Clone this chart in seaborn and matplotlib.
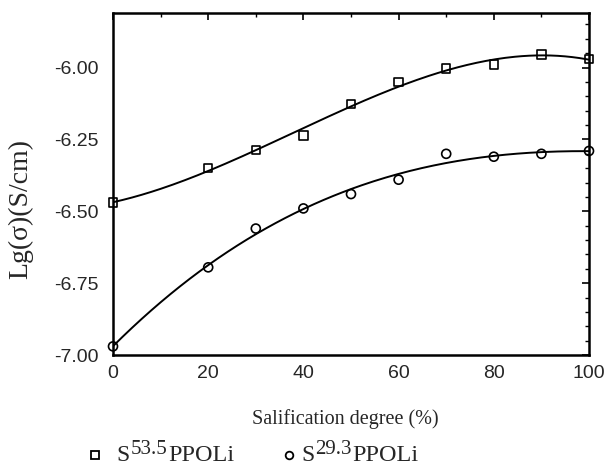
import numpy as np
import pandas as pd
import matplotlib
matplotlib.use("Agg")
import matplotlib.pyplot as plt
import seaborn as sns
from matplotlib.ticker import MultipleLocator, FormatStrFormatter
from matplotlib.lines import Line2D

# data
degree = [0, 20, 30, 40, 50, 60, 70, 80, 90, 100]
s535 = [-6.47, -6.35, -6.287, -6.236, -6.127, -6.05, -6.004, -5.99, -5.955, -5.97]
s293 = [-6.97, -6.695, -6.56, -6.49, -6.44, -6.39, -6.30, -6.31, -6.30, -6.29]
# legend pieces: base, superscript, rest
legend_parts = [("S", "53.5", "PPOLi"), ("S", "29.3", "PPOLi")]

sns.set_style("white")
plt.rcParams["font.family"] = ["Liberation Sans", "DejaVu Sans"]

df = pd.DataFrame({"degree": degree, "s535": s535, "s293": s293})

W, H = 606, 467
fig = plt.figure(figsize=(W / 100, H / 100), dpi=100)
ax = fig.add_axes([113 / W, 1 - 355 / H, (589 - 113) / W, (355 - 13) / H])

# smooth fitted curves (cubic)
xs = np.linspace(0, 100, 200)
for col in ["s535", "s293"]:
    coef = np.polyfit(df["degree"], df[col], 3)
    fit = pd.DataFrame({"x": xs, "y": np.polyval(coef, xs)})
    sns.lineplot(data=fit, x="x", y="y", ax=ax, color="black", linewidth=1.4)

sns.scatterplot(data=df, x="degree", y="s535", ax=ax, marker="s", s=38,
                facecolor="none", edgecolor="black", linewidth=1.2, zorder=3, clip_on=False)
sns.scatterplot(data=df, x="degree", y="s293", ax=ax, marker="o", s=42,
                facecolor="none", edgecolor="black", linewidth=1.2, zorder=3, clip_on=False)

ax.set_xlim(0, 100)
ax.set_ylim(-7.0, -5.81)
ax.xaxis.set_major_locator(MultipleLocator(20))
ax.xaxis.set_minor_locator(MultipleLocator(10))
ax.yaxis.set_major_locator(MultipleLocator(0.25))
ax.yaxis.set_minor_locator(MultipleLocator(0.05))
ax.yaxis.set_major_formatter(FormatStrFormatter("%.2f"))
ax.tick_params(which="both", direction="in", top=True, right=True, labelsize=14, color="black")
ax.tick_params(which="major", length=5, width=1.2)
ax.tick_params(which="minor", length=3, width=1.0)
ax.tick_params(axis="x", pad=7)
ax.tick_params(axis="y", pad=10)
for sp in ax.spines.values():
    sp.set_linewidth(1.8)
    sp.set_color("black")
ax.set_xlabel("")
ax.set_ylabel("")

serif = ["Liberation Serif", "DejaVu Serif"]
fig.text(345 / W, 1 - 419 / H, "Salification degree (%)", ha="center", va="center",
         fontsize=14.5, family=serif)
fig.text(21 / W, 1 - 209 / H, "Lg(σ)(S/cm)", ha="center", va="center",
         rotation=90, fontsize=20, family=serif)

# legend below the plot, built from pieces so the superscript is large like the original
renderer = fig.canvas.get_renderer()

def legend_entry(marker, mx, tx, parts):
    fig.add_artist(Line2D([mx / W], [1 - 455 / H], marker=marker, markersize=5.5,
                          markerfacecolor="none", markeredgecolor="black", markeredgewidth=1.3,
                          linestyle="none", transform=fig.transFigure))
    base, sup, rest = parts
    x = tx
    for txt, size, base_y, gap in [(base, 17, 461, 1), (sup, 15, 453.5, 1), (rest, 17.5, 461, 0)]:
        t = fig.text(x / W, 1 - base_y / H, txt, ha="left", va="baseline",
                     fontsize=size, family=serif)
        x += t.get_window_extent(renderer).width + gap

legend_entry("s", 95, 116, legend_parts[0])
legend_entry("o", 289, 301, legend_parts[1])

fig.savefig("out.png", dpi=100)
